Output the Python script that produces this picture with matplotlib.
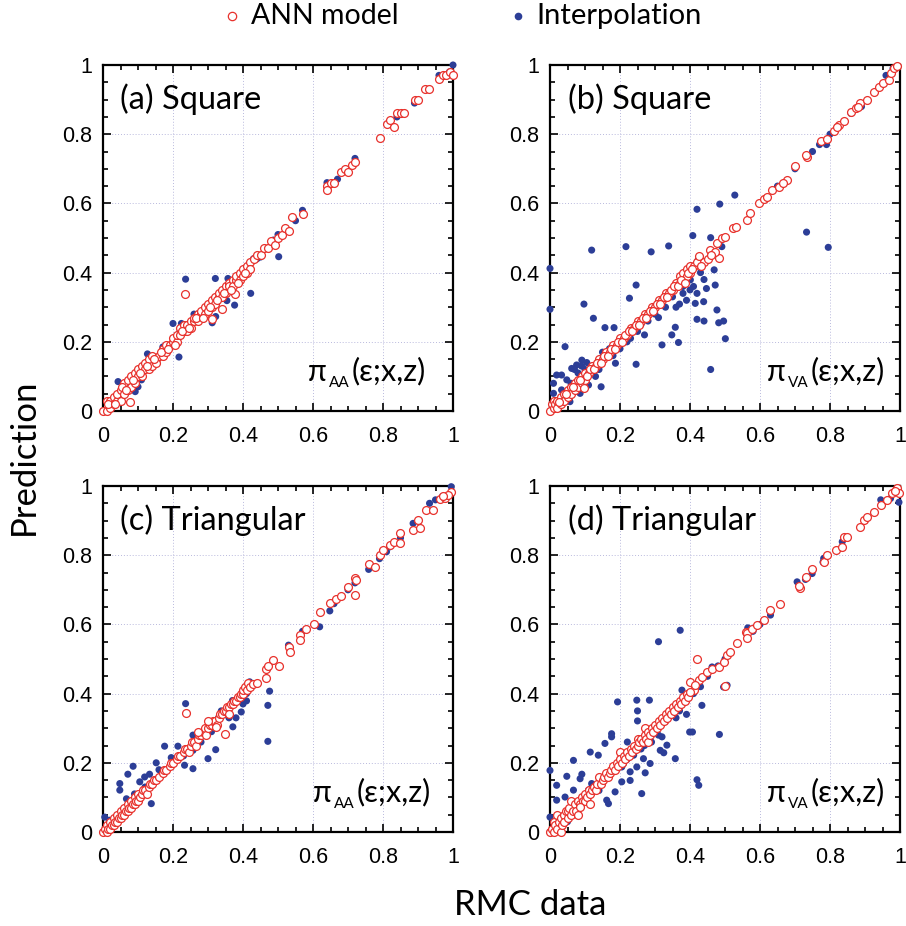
import matplotlib
matplotlib.use("Agg")
import matplotlib.pyplot as plt
from matplotlib.lines import Line2D
from matplotlib.ticker import MultipleLocator
from matplotlib.transforms import offset_copy

# ---------------- data (RMC data, Prediction) ----------------
panel_titles = ["(a) Square", "(b) Square", "(c) Triangular", "(d) Triangular"]
panel_funcs = ["AA", "VA", "AA", "VA"]
tick_vals = [0, 0.2, 0.4, 0.6, 0.8, 1.0]
tick_labels = ["0", "0.2", "0.4", "0.6", "0.8", "1"]
legend_labels = ["ANN model", "Interpolation"]

ann_a = [(0.00,0.00),(0.01,0.03),(0.01,0.00),(0.02,0.01),(0.02,0.03),(0.03,0.02),(0.03,0.04),(0.04,0.03),
         (0.04,0.05),(0.05,0.06),(0.05,0.03),(0.06,0.05),(0.06,0.08),(0.07,0.06),(0.07,0.09),(0.08,0.07),
         (0.08,0.10),(0.09,0.08),(0.09,0.11),(0.10,0.10),(0.10,0.12),(0.11,0.10),(0.11,0.13),(0.12,0.12),
         (0.12,0.14),(0.13,0.12),(0.13,0.15),(0.14,0.13),(0.14,0.16),(0.15,0.15),(0.15,0.14),(0.16,0.16),
         (0.17,0.16),(0.17,0.18),(0.18,0.17),(0.18,0.19),(0.19,0.19),(0.20,0.20),(0.20,0.21),(0.21,0.20),
         (0.21,0.22),(0.22,0.22),(0.22,0.24),(0.23,0.23),(0.23,0.25),(0.24,0.23),(0.24,0.25),(0.25,0.26),
         (0.25,0.24),(0.26,0.26),(0.26,0.27),(0.27,0.28),(0.27,0.26),(0.28,0.28),(0.28,0.29),(0.29,0.30),
         (0.29,0.28),(0.30,0.31),(0.30,0.29),(0.31,0.30),(0.31,0.32),(0.32,0.33),(0.32,0.31),(0.33,0.33),
         (0.33,0.34),(0.34,0.35),(0.34,0.33),(0.35,0.36),(0.35,0.34),(0.36,0.37),(0.36,0.36),(0.37,0.38),
         (0.37,0.36),(0.38,0.38),(0.38,0.39),(0.39,0.40),(0.39,0.38),(0.40,0.41),(0.40,0.39),(0.41,0.42),
         (0.41,0.40),(0.42,0.43),(0.42,0.41),(0.43,0.44),(0.44,0.45),(0.45,0.45),(0.46,0.47),(0.47,0.47),
         (0.48,0.49),(0.49,0.48),(0.50,0.50),(0.51,0.51),(0.52,0.53),(0.53,0.52),(0.54,0.56),(0.57,0.57),
         (0.64,0.65),(0.64,0.64),(0.65,0.66),(0.66,0.66),(0.68,0.69),(0.69,0.70),(0.70,0.69),(0.71,0.71),
         (0.72,0.72),(0.79,0.79),(0.81,0.83),(0.82,0.84),(0.83,0.82),(0.84,0.86),(0.85,0.86),(0.86,0.86),
         (0.89,0.90),(0.90,0.90),(0.92,0.93),(0.93,0.93),(0.96,0.96),(0.97,0.97),(0.98,0.97),(0.99,0.98),
         (1.00,0.97),(0.235,0.337),(0.076,0.027),(0.376,0.337),(0.34,0.294),(0.31,0.265),(0.015,0.02),
         (0.035,0.02),(0.055,0.07),(0.065,0.06),(0.085,0.09),(0.105,0.11),(0.125,0.13),(0.145,0.15),
         (0.165,0.17),(0.185,0.18),(0.205,0.19),(0.225,0.23),(0.245,0.24),(0.265,0.27),(0.285,0.27),
         (0.305,0.30),(0.325,0.32),(0.345,0.34),(0.365,0.35),(0.385,0.37),(0.405,0.40)]
interp_a = [(0.0,0.0),(0.02,0.02),(0.05,0.05),(0.08,0.07),(0.12,0.12),(0.15,0.15),(0.18,0.19),(0.22,0.23),
            (0.27,0.28),(0.30,0.30),(0.33,0.33),(0.38,0.38),(0.41,0.41),(0.44,0.44),(0.47,0.47),(0.50,0.51),
            (0.55,0.55),(0.57,0.58),(0.64,0.66),(0.67,0.67),(0.72,0.73),(0.84,0.85),(0.89,0.89),(0.96,0.97),
            (0.99,0.98),(1.0,1.0),(0.236,0.381),(0.321,0.383),(0.20,0.253),(0.224,0.253),(0.217,0.156),
            (0.312,0.255),(0.322,0.273),(0.376,0.306),(0.354,0.319),(0.422,0.34),(0.502,0.446),(0.487,0.494),
            (0.357,0.383),(0.127,0.165),(0.043,0.085),(0.10,0.07),(0.092,0.056),(0.13,0.14),(0.20,0.19),
            (0.43,0.44),(0.45,0.445),(0.26,0.28),(0.35,0.34),(0.171,0.185),(0.06,0.05),(0.11,0.09)]

ann_b = [(0.0,0.0),(0.005,0.02),(0.01,0.01),(0.01,0.03),(0.015,0.02),(0.02,0.03),(0.02,0.01),(0.03,0.04),
         (0.03,0.02),(0.04,0.05),(0.04,0.03),(0.05,0.06),(0.05,0.04),(0.06,0.07),(0.06,0.05),(0.07,0.08),
         (0.07,0.06),(0.08,0.07),(0.08,0.09),(0.09,0.10),(0.09,0.08),(0.10,0.11),(0.10,0.09),(0.11,0.11),
         (0.12,0.13),(0.13,0.13),(0.14,0.15),(0.15,0.15),(0.16,0.17),(0.17,0.17),(0.18,0.19),(0.19,0.19),
         (0.20,0.21),(0.21,0.21),(0.22,0.22),(0.23,0.24),(0.24,0.24),(0.25,0.26),(0.26,0.26),(0.27,0.28),
         (0.28,0.28),(0.29,0.30),(0.30,0.30),(0.31,0.32),(0.32,0.32),(0.33,0.34),(0.34,0.34),(0.35,0.35),
         (0.36,0.37),(0.37,0.37),(0.37,0.39),(0.38,0.38),(0.38,0.40),(0.39,0.39),(0.39,0.41),(0.40,0.40),
         (0.40,0.42),(0.41,0.42),(0.42,0.43),(0.025,0.025),(0.045,0.05),(0.065,0.07),(0.085,0.09),
         (0.105,0.10),(0.115,0.12),(0.125,0.12),(0.135,0.14),(0.145,0.14),(0.155,0.16),(0.165,0.16),
         (0.175,0.18),(0.185,0.18),(0.195,0.20),(0.205,0.20),(0.215,0.22),(0.225,0.23),(0.235,0.23),
         (0.245,0.25),(0.255,0.25),(0.265,0.27),(0.275,0.27),(0.285,0.29),(0.295,0.29),(0.305,0.31),
         (0.315,0.31),(0.325,0.33),(0.335,0.33),(0.345,0.35),(0.355,0.36),(0.365,0.36),(0.375,0.38),
         (0.385,0.37),(0.395,0.40),(0.405,0.41),(0.098,0.066),(0.482,0.441),
         (0.425,0.448),(0.44,0.43),(0.458,0.465),(0.47,0.46),(0.477,0.485),(0.491,0.499),(0.501,0.504),
         (0.523,0.528),(0.53,0.533),(0.563,0.552),(0.57,0.571),(0.596,0.60),(0.611,0.612),(0.62,0.619),
         (0.635,0.639),(0.654,0.648),(0.676,0.668),(0.701,0.709),(0.735,0.735),(0.773,0.781),(0.792,0.785),
         (0.811,0.809),(0.826,0.827),(0.84,0.839),(0.859,0.865),(0.873,0.875),(0.887,0.889),(0.926,0.923),
         (0.94,0.937),(0.95,0.947),(0.969,0.957),(0.973,0.976),(0.983,0.99),(0.992,0.997),(0.45,0.44),
         (0.46,0.45),(0.43,0.42),(0.665,0.66),(0.73,0.74),(0.82,0.82),(0.88,0.88),(0.905,0.90)]
interp_b = [(0.0,0.412),(0.0,0.294),(0.01,0.08),(0.043,0.186),(0.119,0.465),(0.097,0.309),(0.124,0.268),
            (0.157,0.241),(0.183,0.241),(0.146,0.07),(0.187,0.138),(0.217,0.475),(0.227,0.326),(0.246,0.364),
            (0.246,0.135),(0.289,0.46),(0.339,0.477),(0.32,0.191),(0.348,0.22),(0.358,0.242),(0.367,0.198),
            (0.37,0.309),(0.408,0.507),(0.42,0.583),(0.459,0.501),(0.485,0.598),(0.528,0.624),(0.469,0.408),
            (0.447,0.354),(0.472,0.364),(0.477,0.292),(0.439,0.316),(0.415,0.311),(0.42,0.265),(0.44,0.26),
            (0.482,0.255),(0.496,0.26),(0.501,0.209),(0.459,0.12),(0.423,0.436),(0.401,0.379),(0.491,0.475),
            (0.733,0.517),(0.795,0.473),(0.01,0.051),(0.019,0.104),(0.033,0.104),(0.048,0.09),(0.062,0.123),
            (0.076,0.133),(0.091,0.147),(0.057,0.027),(0.081,0.056),(0.033,0.061),(0.11,0.075),(0.086,0.051),
            (0.057,0.041),(0.25,0.23),(0.28,0.26),(0.30,0.28),(0.33,0.30),(0.35,0.33),(0.38,0.34),(0.38,0.36),
            (0.40,0.35),(0.41,0.36),(0.42,0.34),(0.39,0.32),(0.36,0.30),(0.31,0.27),(0.27,0.22),(0.22,0.20),
            (0.20,0.18),(0.18,0.16),(0.15,0.17),(0.14,0.12),(0.12,0.13),(0.10,0.12),(0.08,0.11),(0.06,0.08),
            (0.04,0.05),(0.02,0.03),(0.65,0.65),(0.67,0.66),(0.70,0.70),(0.75,0.75),(0.77,0.77),(0.79,0.77),
            (0.80,0.80),(0.82,0.82),(0.86,0.86),(0.89,0.88),(0.96,0.97),(0.98,0.99),(0.07,0.12),(0.09,0.13),
            (0.105,0.14),(0.13,0.10),(0.17,0.18),(0.23,0.21),(0.26,0.25),(0.43,0.40),(0.44,0.38)]

ann_c = [(0,0),(0.005,0.01),(0.01,0.0),(0.01,0.02),(0.015,0.01),(0.02,0.03),(0.02,0.01),(0.025,0.02),
         (0.03,0.04),(0.03,0.02),(0.035,0.03),(0.04,0.05),(0.04,0.03),(0.045,0.04),(0.05,0.06),(0.05,0.04),
         (0.055,0.05),(0.06,0.07),(0.06,0.05),(0.065,0.06),(0.07,0.08),(0.07,0.06),(0.075,0.07),(0.08,0.09),
         (0.08,0.07),(0.085,0.08),(0.09,0.10),(0.09,0.08),(0.095,0.09),(0.10,0.11),(0.10,0.09),(0.105,0.10),
         (0.11,0.11),(0.115,0.12),(0.12,0.12),(0.125,0.11),(0.13,0.13),(0.135,0.14),(0.14,0.14),(0.145,0.15),
         (0.15,0.15),(0.16,0.16),(0.17,0.17),(0.175,0.18),(0.18,0.18),(0.19,0.19),(0.195,0.20),(0.20,0.20),
         (0.21,0.21),(0.215,0.22),(0.22,0.22),(0.23,0.23),(0.235,0.24),(0.24,0.24),(0.245,0.23),(0.25,0.25),
         (0.255,0.26),(0.26,0.26),(0.265,0.25),(0.27,0.27),(0.275,0.28),(0.28,0.28),(0.285,0.29),(0.29,0.30),
         (0.295,0.28),(0.30,0.30),(0.305,0.31),(0.31,0.31),(0.315,0.32),(0.32,0.32),(0.325,0.31),(0.33,0.33),
         (0.335,0.34),(0.34,0.34),(0.345,0.35),(0.35,0.35),(0.355,0.36),(0.36,0.36),(0.365,0.37),(0.37,0.37),
         (0.375,0.38),(0.38,0.38),(0.385,0.39),(0.39,0.39),(0.395,0.40),(0.40,0.40),(0.40,0.41),(0.405,0.42),
         (0.41,0.41),(0.415,0.43),(0.42,0.42),(0.236,0.344),(0.348,0.282),(0.324,0.304),(0.30,0.32),
         (0.27,0.29),(0.36,0.34),(0.467,0.444),(0.467,0.472),(0.486,0.497),(0.503,0.479),(0.429,0.429),
         (0.531,0.535),(0.533,0.521),(0.564,0.569),(0.564,0.555),(0.581,0.588),(0.602,0.601),(0.619,0.636),
         (0.648,0.661),(0.667,0.672),(0.681,0.683),(0.70,0.709),(0.719,0.733),(0.719,0.685),(0.724,0.728),
         (0.759,0.776),(0.778,0.767),(0.79,0.80),(0.80,0.815),(0.819,0.829),(0.83,0.839),(0.848,0.863),
         (0.848,0.836),(0.886,0.873),(0.905,0.878),(0.90,0.902),(0.924,0.932),(0.943,0.932),(0.962,0.961),
         (0.976,0.964),(0.995,0.984),(0.985,0.975),(0.97,0.97),(0.44,0.43),(0.47,0.48)]
interp_c = [(0.236,0.371),(0.471,0.262),(0.471,0.366),(0.476,0.407),(0.619,0.593),(0.648,0.639),(0.759,0.759),
            (0.086,0.19),(0.071,0.167),(0.048,0.14),(0.048,0.121),(0.105,0.145),(0.133,0.167),(0.138,0.082),
            (0.005,0.043),(0.019,0.034),(0.176,0.248),(0.214,0.248),(0.257,0.236),(0.233,0.193),(0.257,0.183),
            (0.30,0.212),(0.322,0.238),(0.371,0.304),(0.338,0.35),(0.395,0.347),(0.41,0.379),(0.419,0.434),
            (0.257,0.28),(0.281,0.283),(0.195,0.215),(0.152,0.20),(0.119,0.159),(0.067,0.096),(0.933,0.95),
            (0.995,0.998),(0.886,0.892),(0.819,0.824),(0.0,0.0),(0.03,0.03),(0.06,0.06),(0.10,0.10),
            (0.14,0.14),(0.18,0.18),(0.20,0.21),(0.26,0.26),(0.29,0.29),(0.33,0.33),(0.35,0.34),(0.37,0.38),
            (0.40,0.39),(0.41,0.42),(0.42,0.43),(0.53,0.54),(0.57,0.58),(0.66,0.66),(0.70,0.70),(0.72,0.72),
            (0.79,0.79),(0.81,0.81),(0.85,0.85),(0.95,0.96),(0.97,0.97),(0.38,0.33),(0.36,0.33),(0.40,0.37),
            (0.41,0.40),(0.09,0.11),(0.12,0.13),(0.16,0.18),(0.23,0.22),(0.28,0.26),(0.31,0.29)]

ann_d = [(0,0),(0.005,0.01),(0.01,0.0),(0.01,0.03),(0.015,0.02),(0.02,0.01),(0.02,0.05),(0.025,0.03),
         (0.03,0.0),(0.03,0.04),(0.035,0.02),(0.04,0.05),(0.04,0.03),(0.045,0.06),(0.05,0.04),(0.05,0.06),
         (0.055,0.07),(0.06,0.05),(0.06,0.09),(0.065,0.06),(0.07,0.08),(0.075,0.06),(0.08,0.05),(0.08,0.09),
         (0.085,0.08),(0.09,0.10),(0.095,0.09),(0.10,0.11),(0.10,0.09),(0.105,0.10),(0.11,0.12),(0.115,0.11),
         (0.12,0.12),(0.125,0.13),(0.13,0.12),(0.135,0.14),(0.14,0.16),(0.145,0.14),(0.15,0.15),(0.155,0.16),
         (0.16,0.17),(0.165,0.16),(0.17,0.17),(0.175,0.18),(0.18,0.19),(0.185,0.18),(0.19,0.20),(0.195,0.19),
         (0.20,0.23),(0.20,0.21),(0.205,0.20),(0.21,0.22),(0.215,0.21),(0.22,0.23),(0.225,0.22),(0.23,0.24),
         (0.235,0.23),(0.24,0.25),(0.245,0.24),(0.25,0.27),(0.25,0.25),(0.255,0.26),(0.26,0.27),(0.265,0.26),
         (0.27,0.30),(0.27,0.28),(0.275,0.27),(0.28,0.26),(0.28,0.29),(0.285,0.28),(0.29,0.30),(0.295,0.29),
         (0.30,0.31),(0.305,0.30),(0.31,0.32),(0.315,0.31),(0.32,0.33),(0.325,0.32),(0.33,0.34),(0.335,0.33),
         (0.34,0.35),(0.345,0.34),(0.35,0.36),(0.355,0.35),(0.36,0.37),(0.365,0.36),(0.37,0.38),(0.375,0.37),
         (0.38,0.39),(0.385,0.38),(0.39,0.40),(0.395,0.39),(0.42,0.501),(0.499,0.421),(0.115,0.082),
         (0.086,0.072),(0.401,0.434),(0.425,0.439),(0.434,0.448),(0.448,0.463),(0.463,0.47),(0.482,0.477),
         (0.496,0.492),(0.506,0.511),(0.515,0.521),(0.534,0.545),(0.561,0.579),(0.563,0.574),(0.577,0.588),
         (0.592,0.598),(0.611,0.612),(0.628,0.643),(0.656,0.658),(0.714,0.704),(0.73,0.738),(0.749,0.759),
         (0.782,0.781),(0.792,0.80),(0.816,0.815),(0.835,0.824),(0.84,0.853),(0.849,0.853),(0.887,0.882),
         (0.897,0.902),(0.906,0.911),(0.926,0.926),(0.945,0.945),(0.964,0.96),(0.978,0.979),(0.992,0.993),
         (0.997,0.979),(0.41,0.41),(0.40,0.405),(0.415,0.425),(0.563,0.56),(0.71,0.71),(0.985,0.985)]
interp_d = [(0.0,0.178),(0.019,0.135),(0.019,0.092),(0.048,0.161),(0.067,0.207),(0.091,0.167),(0.115,0.231),
            (0.138,0.222),(0.157,0.256),(0.176,0.284),(0.176,0.275),(0.193,0.376),(0.221,0.26),(0.248,0.381),
            (0.25,0.35),(0.25,0.321),(0.284,0.381),(0.31,0.55),(0.372,0.583),(0.377,0.41),(0.391,0.381),
            (0.399,0.289),(0.407,0.289),(0.434,0.366),(0.484,0.282),(0.42,0.151),(0.425,0.135),(0.358,0.212),
            (0.334,0.251),(0.32,0.275),(0.315,0.236),(0.325,0.229),(0.272,0.171),(0.262,0.111),(0.229,0.149),
            (0.205,0.145),(0.186,0.116),(0.167,0.082),(0.162,0.092),(0.119,0.14),(0.11,0.121),(0.086,0.154),
            (0.067,0.121),(0.043,0.101),(0.0,0.043),(0.267,0.212),(0.239,0.222),(0.286,0.198),(0.248,0.188),
            (0.229,0.174),(0.205,0.188),(0.21,0.198),(0.506,0.424),(0.496,0.419),(0.997,0.953),(0.565,0.59),
            (0.63,0.627),(0.706,0.723),(0.749,0.747),(0.945,0.96),(0.973,0.964),(0.782,0.791),(0.835,0.839),
            (0.463,0.477),(0.42,0.429),(0.0,0.0),(0.02,0.03),(0.05,0.06),(0.08,0.07),(0.10,0.10),(0.12,0.13),
            (0.15,0.15),(0.18,0.18),(0.20,0.19),(0.22,0.21),(0.24,0.23),(0.26,0.24),(0.28,0.27),(0.30,0.30),
            (0.33,0.32),(0.35,0.34),(0.37,0.35),(0.39,0.38),(0.41,0.40),(0.43,0.42),(0.45,0.45),(0.48,0.48),
            (0.50,0.50),(0.58,0.58),(0.60,0.60),(0.73,0.73),(0.78,0.78),(0.85,0.85),(0.90,0.90),(0.98,0.98),
            (0.39,0.34),(0.36,0.33),(0.27,0.25),(0.29,0.26),(0.31,0.28),(0.14,0.12),(0.05,0.03)]

ann_sets = [ann_a, ann_b, ann_c, ann_d]
interp_sets = [interp_a, interp_b, interp_c, interp_d]

# ---------------- style ----------------
RED = "#e8312c"
BLUE = "#2c3e97"
GRID = "#b9b9dd"
TEXT_FONT = ["Lato", "DejaVu Sans"]
TICK_FONT = ["Liberation Sans", "DejaVu Sans"]

W, H = 906, 926
fig = plt.figure(figsize=(W / 100, H / 100), dpi=100)
renderer = fig.canvas.get_renderer()

boxes = [(103, 65), (550, 65), (103, 486), (550, 486)]
aw, ah = 350, 346
label_x = [0.586, 0.62, 0.60, 0.62]

for i, (px, py) in enumerate(boxes):
    ax = fig.add_axes([px / W, 1 - (py + ah) / H, aw / W, ah / H])
    ann = ann_sets[i]
    itp = interp_sets[i]
    ax.scatter([p[0] for p in itp], [p[1] for p in itp], s=26, color=BLUE,
               edgecolors="none", zorder=3, clip_on=False)
    ax.scatter([p[0] for p in ann], [p[1] for p in ann], s=32, facecolors="white",
               edgecolors=RED, linewidths=0.9, zorder=4, clip_on=False)
    ax.set_xlim(0, 1)
    ax.set_ylim(0, 1)
    ax.set_xticks(tick_vals)
    ax.set_yticks(tick_vals)
    ax.set_xticklabels(tick_labels, fontfamily=TICK_FONT, fontsize=15.5)
    ax.set_yticklabels(tick_labels, fontfamily=TICK_FONT, fontsize=15.5)
    ax.xaxis.set_minor_locator(MultipleLocator(0.05))
    ax.yaxis.set_minor_locator(MultipleLocator(0.05))
    ax.tick_params(which="both", direction="in", top=True, right=True, width=1.2, colors="black")
    ax.tick_params(which="major", length=6)
    ax.tick_params(axis="x", which="major", pad=11)
    ax.tick_params(axis="y", which="major", pad=8)
    ax.tick_params(which="minor", length=3.5)
    ax.grid(True, which="major", linestyle=(0, (1, 2)), color=GRID, linewidth=0.7)
    ax.set_axisbelow(True)
    for sp in ax.spines.values():
        sp.set_linewidth(1.6)
    ax.text(0.05, 0.90, panel_titles[i], fontsize=23.5, fontfamily=TEXT_FONT,
            va="center", ha="left", zorder=6)

    # pi label built from pieces: π, small lowered subscript, (ε;x,z)
    x0, y0 = label_x[i], 0.088
    t1 = ax.text(x0, y0, "π", fontsize=22, fontfamily=TEXT_FONT, va="baseline",
                 ha="left", zorder=6)
    w1 = t1.get_window_extent(renderer).width * 72 / fig.dpi
    tr2 = offset_copy(ax.transData, fig=fig, x=w1 + 1.5, y=-5, units="points")
    t2 = ax.text(x0, y0, panel_funcs[i], fontsize=11, fontfamily=TEXT_FONT,
                 va="baseline", ha="left", transform=tr2, zorder=6)
    w2 = t2.get_window_extent(renderer).width * 72 / fig.dpi
    tr3 = offset_copy(ax.transData, fig=fig, x=w1 + w2 + 3, y=0, units="points")
    ax.text(x0, y0, "(ε;x,z)", fontsize=22, fontfamily=TEXT_FONT, va="baseline",
            ha="left", transform=tr3, zorder=6)

fig.text(24 / W, 1 - 457 / H, "Prediction", rotation=90, fontsize=25,
         fontfamily=TEXT_FONT, va="center", ha="center")
fig.text(530 / W, 1 - 905 / H, "RMC data", fontsize=25, fontfamily=TEXT_FONT,
         va="center", ha="center")

# legend, placed by hand at the top
leg_y = 1 - 16 / H
fig.add_artist(Line2D([232 / W], [leg_y], transform=fig.transFigure, linestyle="none",
                      marker="o", markersize=6, markerfacecolor="white",
                      markeredgecolor=RED, markeredgewidth=0.9))
fig.add_artist(Line2D([518 / W], [leg_y], transform=fig.transFigure, linestyle="none",
                      marker="o", markersize=5.5, markerfacecolor=BLUE, markeredgecolor="none"))
fig.text(251 / W, leg_y, legend_labels[0], fontsize=20.5, fontfamily=TEXT_FONT,
         va="center", ha="left")
fig.text(536 / W, leg_y, legend_labels[1], fontsize=21, fontfamily=TEXT_FONT,
         va="center", ha="left")

fig.savefig("out.png", dpi=100)
